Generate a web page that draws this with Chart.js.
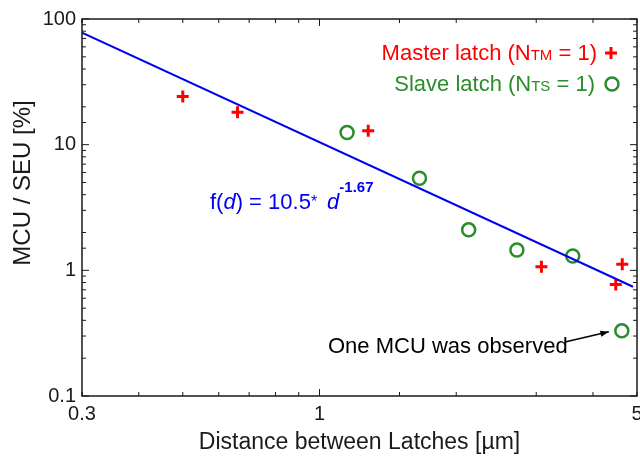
<!DOCTYPE html>
<html>
<head>
<meta charset="utf-8">
<script src="https://cdn.jsdelivr.net/npm/chart.js@4/dist/chart.umd.min.js"></script>
<style>
  html, body { margin: 0; padding: 0; background: #fff; }
  #wrap { width: 640px; height: 458px; }
</style>
</head>
<body>
<div id="wrap"><canvas id="mcuChart" width="640" height="458"></canvas></div>
<script>
// values (distance in um, MCU/SEU in %)
const masterX = [0.50, 0.66, 1.28, 3.08, 4.49, 4.64];
const masterY = [24.2, 18.1, 12.9, 1.07, 0.77, 1.12];
const slaveX = [1.15, 1.66, 2.13, 2.72, 3.61, 4.63];
const slaveY = [12.5, 5.4, 2.1, 1.45, 1.30, 0.33];
// fitted line f(d) = 10.5 * d^-1.67, its two ends
const fitX = [0.3, 4.9];
const fitY = [78, 0.74];
const xTickLabels = [0.3, 1, 5];
const yTickLabels = [0.1, 1, 10, 100];

const FONT = '"Liberation Sans", Arial, sans-serif';
const RED = '#ff0000';
const GREEN = '#2a8c2a';
const BLUE = '#0000f0';
const INK = '#1a1a1a';

const pairs = (xs, ys) => xs.map((x, i) => ({ x: x, y: ys[i] }));
const pick = list => v => {
  const hit = list.find(t => Math.abs(t - v) < t * 1e-6);
  return hit === undefined ? '' : String(hit);
};

// draws pieces of text [{t, font}] left to right, right-aligned at x
function drawRuns(ctx, runs, xRight, y, color) {
  let total = 0;
  runs.forEach(r => { ctx.font = r.font; total += ctx.measureText(r.t).width; });
  let x = xRight - total;
  ctx.fillStyle = color;
  ctx.textAlign = 'left';
  ctx.textBaseline = 'alphabetic';
  runs.forEach(r => {
    ctx.font = r.font;
    ctx.fillText(r.t, x, y);
    x += ctx.measureText(r.t).width;
  });
}

const decorations = {
  id: 'decorations',
  afterDraw(chart) {
    const ctx = chart.ctx;
    const a = chart.chartArea;
    const xs = chart.scales.x, ys = chart.scales.y;
    ctx.save();

    // frame
    ctx.strokeStyle = INK;
    ctx.lineWidth = 1.5;
    ctx.strokeRect(a.left, a.top, a.right - a.left, a.bottom - a.top);

    // inward ticks on all four sides
    ctx.lineWidth = 1;
    const isDecade = v => Math.abs(Math.log10(v) - Math.round(Math.log10(v))) < 1e-6;
    xs.ticks.forEach(t => {
      const px = xs.getPixelForValue(t.value);
      const len = isDecade(t.value) ? 7 : 4;
      ctx.beginPath();
      ctx.moveTo(px, a.bottom); ctx.lineTo(px, a.bottom - len);
      ctx.moveTo(px, a.top); ctx.lineTo(px, a.top + len);
      ctx.stroke();
    });
    ys.ticks.forEach(t => {
      const py = ys.getPixelForValue(t.value);
      const len = isDecade(t.value) ? 7 : 4;
      ctx.beginPath();
      ctx.moveTo(a.left, py); ctx.lineTo(a.left + len, py);
      ctx.moveTo(a.right, py); ctx.lineTo(a.right - len, py);
      ctx.stroke();
    });

    // x tick labels (drawn here so they don't shrink the plot area)
    ctx.fillStyle = INK;
    ctx.font = '20px ' + FONT;
    ctx.textAlign = 'center';
    ctx.textBaseline = 'middle';
    xTickLabels.forEach(v => ctx.fillText(String(v), xs.getPixelForValue(v), 414));

    // axis titles
    ctx.font = '23px ' + FONT;
    ctx.fillText('Distance between Latches [\u00b5m]', (a.left + a.right) / 2, 443);
    ctx.save();
    ctx.translate(23, 183);
    ctx.rotate(-Math.PI / 2);
    ctx.font = '24px ' + FONT;
    ctx.fillText('MCU / SEU [%]', 0, 0);
    ctx.restore();

    // legend
    const big = '22px ' + FONT, small = '15px ' + FONT;
    drawRuns(ctx, [{ t: 'Master latch (N', font: big }, { t: 'TM', font: small }, { t: ' = 1)', font: big }], 597, 60, RED);
    drawRuns(ctx, [{ t: 'Slave latch (N', font: big }, { t: 'TS', font: small }, { t: ' = 1)', font: big }], 595, 91, GREEN);
    ctx.strokeStyle = RED;
    ctx.lineWidth = 3;
    ctx.beginPath();
    ctx.moveTo(605, 53); ctx.lineTo(617, 53);
    ctx.moveTo(611, 47); ctx.lineTo(611, 59);
    ctx.stroke();
    ctx.strokeStyle = GREEN;
    ctx.lineWidth = 2.5;
    ctx.beginPath();
    ctx.arc(612, 84, 6.5, 0, Math.PI * 2);
    ctx.stroke();

    // fit formula
    const it = 'italic 22px ' + FONT;
    ctx.fillStyle = BLUE;
    ctx.textAlign = 'left';
    ctx.textBaseline = 'alphabetic';
    let x = 210;
    const put = (t, font, dy) => { ctx.font = font; ctx.fillText(t, x, 209 + (dy || 0)); x += ctx.measureText(t).width; };
    put('f(', big); put('d', it); put(') = 10.5', big); put('*', '16px ' + FONT, -2);
    x += 10;
    put('d', it);
    put('-1.67', 'bold 15px ' + FONT, -17);

    // annotation with arrow to the lone MCU point
    ctx.fillStyle = '#000';
    ctx.font = big;
    ctx.textBaseline = 'middle';
    ctx.fillText('One MCU was observed', 328, 347);
    const tipX = xs.getPixelForValue(slaveX[5]) - 13;
    const tipY = ys.getPixelForValue(slaveY[5]) + 1;
    const sx = 565, sy = 342;
    ctx.strokeStyle = '#000';
    ctx.lineWidth = 1.5;
    ctx.beginPath();
    ctx.moveTo(sx, sy); ctx.lineTo(tipX, tipY);
    ctx.stroke();
    const ang = Math.atan2(tipY - sy, tipX - sx);
    ctx.beginPath();
    ctx.moveTo(tipX, tipY);
    ctx.lineTo(tipX - 9 * Math.cos(ang - 0.35), tipY - 9 * Math.sin(ang - 0.35));
    ctx.lineTo(tipX - 9 * Math.cos(ang + 0.35), tipY - 9 * Math.sin(ang + 0.35));
    ctx.closePath();
    ctx.fill();

    ctx.restore();
  }
};

new Chart(document.getElementById('mcuChart'), {
  type: 'scatter',
  data: {
    datasets: [
      {
        label: 'Fit',
        data: pairs(fitX, fitY),
        showLine: true,
        borderColor: BLUE,
        borderWidth: 2,
        pointRadius: 0,
        fill: false
      },
      {
        label: 'Master latch',
        data: pairs(masterX, masterY),
        pointStyle: 'cross',
        pointRadius: 6,
        borderWidth: 3,
        borderColor: RED,
        backgroundColor: RED
      },
      {
        label: 'Slave latch',
        data: pairs(slaveX, slaveY),
        pointStyle: 'circle',
        pointRadius: 6.5,
        borderWidth: 2.5,
        borderColor: GREEN,
        backgroundColor: 'rgba(0,0,0,0)'
      }
    ]
  },
  options: {
    responsive: false,
    animation: false,
    layout: { autoPadding: false, padding: { top: 19, right: 3, left: 0, bottom: 0 } },
    plugins: {
      legend: { display: false },
      tooltip: { enabled: false }
    },
    scales: {
      x: {
        type: 'logarithmic',
        min: 0.3,
        max: 5,
        grid: { display: false, drawTicks: false },
        border: { display: false },
        ticks: { display: false, autoSkip: false },
        afterFit: s => { s.height = 62; }
      },
      y: {
        type: 'logarithmic',
        min: 0.1,
        max: 100,
        grid: { display: false, drawTicks: false },
        border: { display: false },
        ticks: {
          autoSkip: false,
          padding: 6,
          color: INK,
          font: { family: FONT, size: 20 },
          callback: pick(yTickLabels)
        },
        afterFit: s => { s.width = 82; s.paddingTop = 0; s.paddingBottom = 0; }
      }
    }
  },
  plugins: [decorations]
});
</script>
</body>
</html>
